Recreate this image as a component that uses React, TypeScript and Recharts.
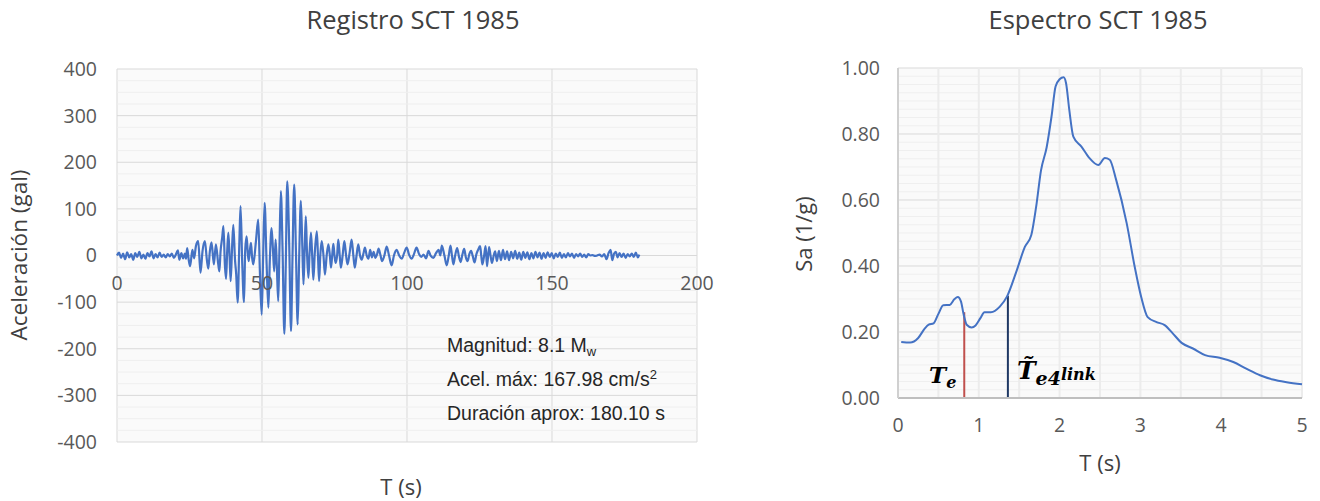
import React from "react";
import { LineChart, Line, XAxis, YAxis, CartesianGrid, ReferenceLine } from "recharts";

// SCT 1985 accelerogram: [time s, acceleration gal]
const accRecord: [number, number][] = [
  [0, 0], [0.7, 6], [1.4, -5], [2.1, 4], [2.8, -8], [3.5, 7], [4.2, -4], [4.9, 3], [5.6, -9], [6.3, 5],
  [7.0, -3], [7.7, 8], [8.4, -6], [9.1, 2], [9.8, -7], [10.5, 5], [11.2, -2], [11.9, 9], [12.6, -6], [13.3, 3],
  [14.0, -4], [14.7, 6], [15.4, -3], [16.1, 2], [16.8, -4], [17.5, 3], [18.2, -2], [18.9, 4], [19.6, -5], [20.3, 2],
  [21.0, 11], [21.5, -9], [22.2, 5], [22.8, -6], [23.4, 4], [23.8, -7], [24.2, 16], [24.7, -8], [25.2, -23], [26.0, 12],
  [26.6, -6], [27.2, 20], [28.0, 31], [28.8, -37], [29.5, 10], [30.3, 31], [31.0, -10], [31.5, -28], [32.0, 8], [32.6, 28],
  [33.4, -19], [34.1, 24], [34.9, -18], [35.3, -34], [35.7, 8], [36.3, 40], [36.7, 63], [37.2, -20], [37.6, -50], [38.0, 10],
  [38.4, 49], [38.8, 0], [39.2, -55], [39.7, 20], [40.1, 66], [40.7, -10], [41.1, -40], [41.6, -101], [42.2, 30], [42.6, 106],
  [43.2, -20], [43.8, -100], [44.2, 10], [44.7, 41], [45.1, 5], [45.4, -12], [45.8, 10], [46.2, 27], [46.6, -5], [47.0, -19],
  [47.9, 30], [48.7, 77], [49.3, -40], [49.9, -127], [50.4, 0], [50.9, 113], [51.6, -20], [52.2, -112], [52.7, -10], [53.3, 59],
  [53.8, 10], [54.2, -34], [54.7, 34], [55.1, -20], [55.6, -98], [56.0, 10], [56.5, 138], [57.1, 10], [57.7, -168], [58.2, -20],
  [58.7, 159], [59.4, 20], [60.0, -162], [60.5, -10], [61.1, 152], [61.7, 10], [62.3, -148], [62.8, -10], [63.4, 117], [63.9, 20],
  [64.3, -62], [64.7, 10], [65.1, 84], [65.5, 10], [66.0, -48], [66.4, 5], [66.9, 49], [67.3, 0], [67.7, -52], [68.2, 5],
  [68.9, 52], [69.3, 0], [69.7, -55], [70.1, 0], [70.6, 31], [71.2, 0], [71.7, -41], [72.3, 0], [72.9, 24], [73.4, 0],
  [73.8, -26], [74.2, 0], [74.6, 25], [75.0, 0], [75.4, -16], [75.9, 0], [76.3, 34], [76.8, 0], [77.2, -26], [77.8, 0],
  [78.4, 31], [79.0, 0], [79.5, -19], [80.2, 5], [80.9, 34], [81.5, 0], [82.0, -26], [82.6, 0], [83.2, 24], [83.8, 0],
  [84.4, -9], [85.0, 5], [85.5, 17], [86.1, 0], [86.7, -7], [87.3, 12], [87.9, -4], [88.5, 8], [89.1, -5], [89.7, 3],
  [90.2, 15], [90.8, 2], [91.4, -12], [92.2, 0], [93.0, 19], [93.8, 0], [94.7, -21], [95.5, 0], [96.4, 12], [97.3, 0],
  [98.2, -7], [99.0, 5], [99.9, 17], [100.7, 2], [101.6, -7], [102.4, 3], [103.3, 17], [104.1, 4], [104.9, -3], [105.7, 2],
  [106.6, -6], [107.4, 10], [108.2, -1], [109.1, -5], [110.0, 5], [110.9, 12], [111.5, 0], [112.0, 21], [112.9, 0], [113.7, -21],
  [114.4, 0], [115.0, 21], [115.5, 0], [116.0, -19], [116.6, 0], [117.3, 16], [117.9, -2], [118.5, -14], [119.1, 2], [119.7, 14],
  [120.3, -4], [120.9, -12], [121.5, 3], [122.1, 10], [122.7, -2], [123.3, -15], [123.9, 2], [124.5, 12], [125.2, 20], [125.6, 0],
  [126.0, -19], [126.6, 0], [127.1, 20], [127.6, -23], [128.3, 18], [128.8, 0], [129.3, -16], [129.9, 0], [130.4, 9], [131.0, -12],
  [131.7, 10], [132.4, -10], [133.1, 12], [133.8, -8], [134.5, 9], [135.2, -10], [135.9, 8], [136.6, -6], [137.3, 10], [138.0, -7],
  [138.7, 6], [139.4, -9], [140.1, 8], [140.8, -5], [141.5, 7], [142.2, -8], [142.9, 5], [143.6, -6], [144.3, 8], [145.0, -4],
  [145.7, 6], [146.4, -7], [147.1, 5], [147.8, -5], [148.5, 7], [149.2, -3], [149.9, 5], [150.6, -6], [151.3, 4], [152.0, -3],
  [152.7, 6], [153.4, -5], [154.1, 3], [154.8, -4], [155.5, 5], [156.2, -2], [156.9, 4], [157.6, -5], [158.3, 3], [159.0, -2],
  [159.7, 4], [160.4, -3], [161.1, 2], [161.8, -4], [162.5, 3], [163.2, 0], [164.0, 1], [164.8, -1], [165.6, 0], [166.4, 2],
  [167.2, -2], [168.0, 3], [168.8, -8], [169.5, 5], [170.2, 12], [170.8, -10], [171.4, 4], [172.0, 8], [172.6, -4], [173.3, 5],
  [174.0, -3], [174.7, 4], [175.4, -5], [176.1, 3], [176.8, -2], [177.5, 4], [178.2, -3], [178.9, 6], [179.6, -4], [180.1, 2],
];

// response spectrum: [period s, Sa]
const spectrum: [number, number][] = [
  [0.04, 0.17], [0.15, 0.168], [0.25, 0.182], [0.33, 0.21], [0.38, 0.222], [0.44, 0.226], [0.5, 0.255], [0.56, 0.281],
  [0.64, 0.282], [0.7, 0.3], [0.74, 0.306], [0.78, 0.292], [0.81, 0.256], [0.85, 0.222], [0.91, 0.214], [0.96, 0.22],
  [1.02, 0.242], [1.07, 0.26], [1.15, 0.26], [1.26, 0.277], [1.35, 0.308], [1.47, 0.387], [1.57, 0.458], [1.65, 0.494],
  [1.71, 0.58], [1.77, 0.69], [1.84, 0.76], [1.9, 0.853], [1.95, 0.944], [2.0, 0.966], [2.05, 0.972], [2.08, 0.954],
  [2.12, 0.873], [2.17, 0.792], [2.27, 0.762], [2.37, 0.727], [2.48, 0.706], [2.56, 0.727], [2.62, 0.722], [2.7, 0.661],
  [2.83, 0.53], [2.93, 0.397], [3.01, 0.306], [3.09, 0.245], [3.2, 0.23], [3.3, 0.221], [3.4, 0.196], [3.51, 0.167],
  [3.65, 0.15], [3.8, 0.13], [3.98, 0.122], [4.15, 0.109], [4.31, 0.089], [4.48, 0.069], [4.64, 0.056], [4.81, 0.048],
  [5.0, 0.042],
];

const accTicksX = [0, 50, 100, 150, 200];
const accTicksY = [-400, -300, -200, -100, 0, 100, 200, 300, 400];
const specTicksX = [0, 1, 2, 3, 4, 5];
const specTicksY = [0, 0.2, 0.4, 0.6, 0.8, 1.0];

const Te = 0.82;
const TeSa = 0.26;
const Te4 = 1.36;
const Te4Sa = 0.31;

const accData = accRecord.map(([t, a]) => ({ t, a }));
const specData = spectrum.map(([t, sa]) => ({ t, sa }));

const FONT = "'Open Sans', sans-serif";
const TICK = "#595959";
const MAJOR = "#d9d9d9";
const MINOR = "#efefef";
const BLUE = "#4472C4";
const TICK_SIZE = 19.5;

const range = (from: number, to: number, step: number) => {
  const out: number[] = [];
  for (let v = from; v <= to + 1e-9; v += step) out.push(Math.round(v * 1000) / 1000);
  return out;
};

const accMinorY = range(-400, 400, 25).filter((v) => v % 100 !== 0);
const specMinorY = range(0, 1, 0.025).filter((v) => Math.abs(v * 5 - Math.round(v * 5)) > 1e-6);
const specMinorX = range(0.5, 4.5, 1);

// left plot box
const L_TOP = 69;
const L_BOTTOM = 442;
const L_ZERO = (L_TOP + L_BOTTOM) / 2;

function Text({ x, y, children, style }: { x: number; y: number; children: React.ReactNode; style?: React.CSSProperties }) {
  return (
    <div
      style={{
        position: "absolute",
        left: x,
        top: y,
        transform: "translate(-50%, -50%)",
        whiteSpace: "nowrap",
        fontFamily: FONT,
        color: "#404040",
        ...style,
      }}
    >
      {children}
    </div>
  );
}

function RecordChart() {
  return (
    <LineChart width={720} height={501} data={accData} margin={{ top: L_TOP, right: 23, bottom: 501 - L_BOTTOM - 1, left: 0 }}>
      <CartesianGrid fill="#fafafa" stroke={MAJOR} horizontal vertical />
      {accMinorY.map((v) => (
        <ReferenceLine key={v} y={v} stroke={MINOR} strokeWidth={1} />
      ))}
      <XAxis
        type="number"
        dataKey="t"
        domain={[0, 200]}
        ticks={accTicksX}
        height={1}
        axisLine={false}
        tickLine={false}
        tick={({ x, payload }: any) => (
          <text x={x} y={L_ZERO + 34} textAnchor="middle" fill={TICK} fontSize={TICK_SIZE} fontFamily={FONT}>
            {payload.value}
          </text>
        )}
      />
      <YAxis
        type="number"
        domain={[-400, 400]}
        ticks={accTicksY}
        width={117}
        axisLine={false}
        tickLine={false}
        tickSize={0}
        tickMargin={20}
        tick={{ fill: TICK, fontSize: TICK_SIZE, fontFamily: FONT }}
      />
      <ReferenceLine y={0} stroke={MAJOR} />
      <Line type="monotone" dataKey="a" stroke={BLUE} strokeWidth={2.2} dot={false} isAnimationActive={false} />
    </LineChart>
  );
}

function SpectrumChart() {
  return (
    <LineChart width={600} height={501} data={specData} margin={{ top: 68, right: 18, bottom: 63, left: 0 }}>
      <CartesianGrid fill="#fafafa" stroke={MAJOR} vertical={false} />
      {specMinorY.map((v) => (
        <ReferenceLine key={"y" + v} y={v} stroke={MINOR} />
      ))}
      {specTicksX.slice(1).map((v) => (
        <ReferenceLine key={"x" + v} x={v} stroke={"#ececec"} strokeWidth={2} />
      ))}
      {specMinorX.map((v) => (
        <ReferenceLine key={"m" + v} x={v} stroke={"#ececec"} strokeWidth={2} />
      ))}
      <XAxis
        type="number"
        dataKey="t"
        domain={[0, 5]}
        ticks={specTicksX}
        height={40}
        axisLine={{ stroke: "#bfbfbf", strokeWidth: 2 }}
        tickLine={false}
        tickSize={0}
        tickMargin={20}
        tick={{ fill: TICK, fontSize: TICK_SIZE, fontFamily: FONT }}
      />
      <YAxis
        type="number"
        domain={[0, 1]}
        ticks={specTicksY}
        width={178}
        axisLine={{ stroke: "#d0d0d0", strokeWidth: 2 }}
        tickLine={false}
        tickSize={0}
        tickMargin={18}
        tickFormatter={(v: number) => v.toFixed(2)}
        tick={{ fill: TICK, fontSize: TICK_SIZE, fontFamily: FONT }}
      />
      <ReferenceLine
        segment={[{ x: Te, y: 0 }, { x: Te, y: TeSa }]}
        stroke="#C0504D"
        strokeWidth={2}
      />
      <ReferenceLine
        segment={[{ x: Te4, y: 0 }, { x: Te4, y: Te4Sa }]}
        stroke="#1F3864"
        strokeWidth={2}
      />
      <Line type="monotone" dataKey="sa" stroke={BLUE} strokeWidth={2} dot={false} isAnimationActive={false} />
    </LineChart>
  );
}

const mathFont = "'DejaVu Serif', 'Liberation Serif', serif";
const noteStyle: React.CSSProperties = {
  position: "absolute",
  left: 447,
  fontFamily: "'Liberation Sans', Arial, sans-serif",
  fontSize: 19.5,
  color: "#262626",
  lineHeight: "24px",
  whiteSpace: "nowrap",
};

export default function App() {
  return (
    <div style={{ position: "absolute", left: 0, top: 0, width: 1320, height: 501, background: "#fff", overflow: "hidden" }}>
      <div style={{ position: "absolute", left: 0, top: 0 }}>
        <RecordChart />
      </div>
      <div style={{ position: "absolute", left: 720, top: 0 }}>
        <SpectrumChart />
      </div>

      <Text x={413} y={19} style={{ fontSize: 25.5 }}>Registro SCT 1985</Text>
      <Text x={1098} y={19} style={{ fontSize: 25.5 }}>Espectro SCT 1985</Text>
      <Text x={18} y={255} style={{ fontSize: 22.5, transform: "translate(-50%, -50%) rotate(-90deg)" }}>Aceleración (gal)</Text>
      <Text x={803} y={234} style={{ fontSize: 22, transform: "translate(-50%, -50%) rotate(-90deg)" }}>Sa (1/g)</Text>
      <Text x={401} y={486} style={{ fontSize: 22 }}>T (s)</Text>
      <Text x={1100} y={462} style={{ fontSize: 22 }}>T (s)</Text>

      <div style={{ ...noteStyle, top: 333 }}>
        Magnitud: 8.1 M<span style={{ fontSize: 13, position: "relative", top: 4 }}>w</span>
      </div>
      <div style={{ ...noteStyle, top: 367 }}>
        Acel. máx: 167.98 cm/s<span style={{ fontSize: 13, position: "relative", top: -7 }}>2</span>
      </div>
      <div style={{ ...noteStyle, top: 401 }}>Duración aprox: 180.10 s</div>

      <div style={{ position: "absolute", left: 929, top: 360, fontFamily: mathFont, fontWeight: "bold", fontStyle: "italic", fontSize: 23, color: "#000", lineHeight: "30px" }}>
        T<span style={{ fontSize: 16, verticalAlign: "-5px" }}>e</span>
      </div>
      <div style={{ position: "absolute", left: 1017, top: 354, fontFamily: mathFont, fontWeight: "bold", fontStyle: "italic", fontSize: 25, color: "#000", lineHeight: "34px", whiteSpace: "nowrap" }}>
        {"T\u0303"}
        <span style={{ fontSize: 19, verticalAlign: "-6px" }}>e4</span>
        <span style={{ fontSize: 16, verticalAlign: "-1px" }}>link</span>
      </div>
    </div>
  );
}
